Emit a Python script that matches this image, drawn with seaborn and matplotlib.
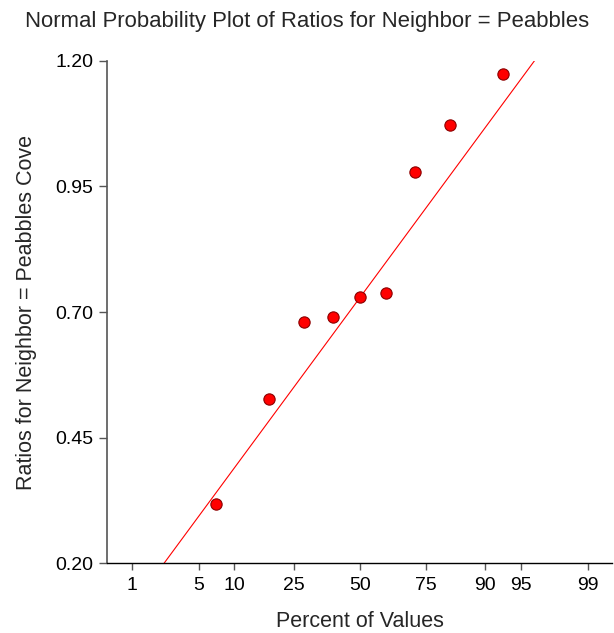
import numpy as np
import pandas as pd
import matplotlib
matplotlib.use("Agg")
import matplotlib.pyplot as plt
import seaborn as sns
from statistics import NormalDist

# Sorted ratios for Neighbor = Peabbles Cove
ratios = [0.318, 0.526, 0.681, 0.690, 0.730, 0.738, 0.979, 1.073, 1.174]
# Reference line: center and spread on the normal-score scale
ref_center = 0.728
ref_scale = 0.2644
percent_ticks = [1, 5, 10, 25, 50, 75, 90, 95, 99]
y_ticks = [0.20, 0.45, 0.70, 0.95, 1.20]

nd = NormalDist()
n = len(ratios)
# Plotting positions (i - 1/3) / (n + 1/3) mapped to normal scores
scores = [nd.inv_cdf((i - 1 / 3) / (n + 1 / 3)) for i in range(1, n + 1)]
df = pd.DataFrame({"score": scores, "ratio": ratios})

zlim = nd.inv_cdf(0.995)
line_z = np.array([-3.0, 3.0])
line_df = pd.DataFrame({"score": line_z, "ratio": ref_center + ref_scale * line_z})

sns.set_style("ticks")
plt.rcParams["font.family"] = ["Liberation Sans", "DejaVu Sans"]

fig = plt.figure(figsize=(6.14, 6.33), dpi=100)
ax = fig.add_axes([0.1748, 0.1101, 0.8219, 0.7940])

sns.lineplot(data=line_df, x="score", y="ratio", ax=ax, color="#ff0000",
             linewidth=0.8, zorder=2)
sns.scatterplot(data=df, x="score", y="ratio", ax=ax, color="#ff0000",
                edgecolor="#8b0000", linewidth=0.8, s=66, zorder=3)

ax.set_xlim(-zlim, zlim)
ax.set_ylim(y_ticks[0], y_ticks[-1])
ax.set_xticks([nd.inv_cdf(p / 100) for p in percent_ticks])
ax.set_xticklabels([str(p) for p in percent_ticks])
ax.set_yticks(y_ticks)
ax.set_yticklabels([f"{v:.2f}" for v in y_ticks])

for side in ("top", "right"):
    ax.spines[side].set_visible(False)
ax.spines["left"].set_color("#555555")
ax.spines["left"].set_linewidth(1.2)
ax.spines["bottom"].set_color("#000000")
ax.spines["bottom"].set_linewidth(1.0)
ax.tick_params(axis="y", direction="out", length=6, width=1, color="#555555",
               labelsize=14, pad=4, labelcolor="#000000")
ax.tick_params(axis="x", direction="out", length=5, width=1, color="#555555",
               labelsize=14, pad=5, labelcolor="#000000")

ax.set_xlabel("Percent of Values", fontsize=15.5, labelpad=12)
ax.set_ylabel("Ratios for Neighbor = Peabbles Cove", fontsize=15.5, labelpad=13)
fig.suptitle("Normal Probability Plot of Ratios for Neighbor = Peabbles",
             fontsize=15.9, y=0.982)

fig.savefig("out.png", dpi=100)
